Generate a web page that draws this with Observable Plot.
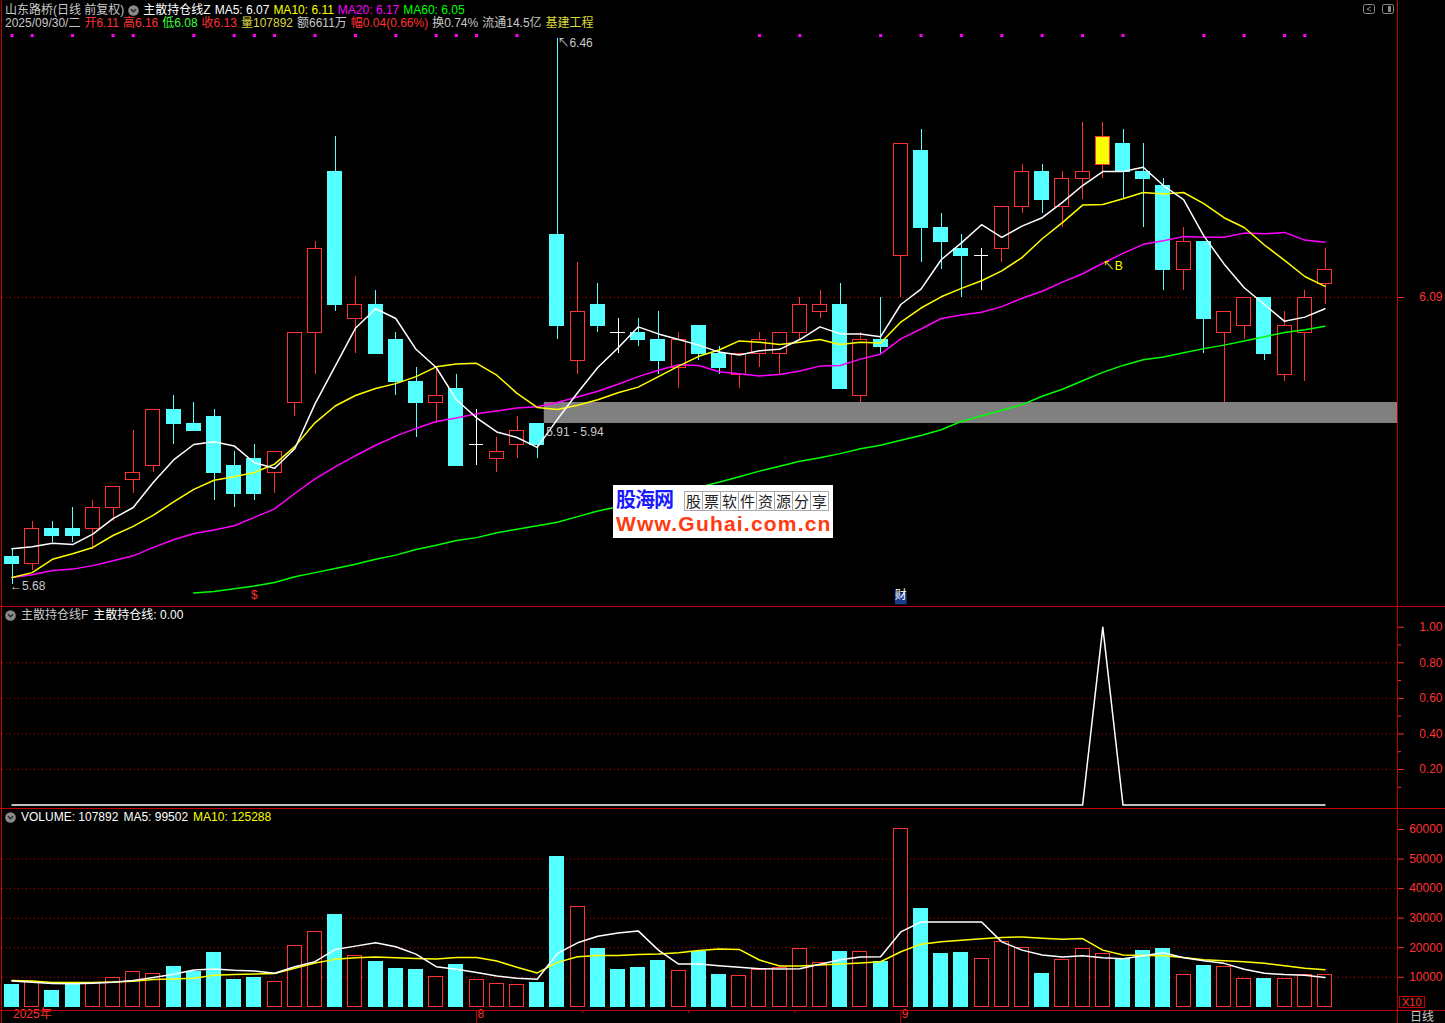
<!DOCTYPE html>
<html lang="zh-CN">
<head>
<meta charset="utf-8">
<title>山东路桥 日线</title>
<script src="https://cdn.jsdelivr.net/npm/d3@7"></script>
<script src="https://cdn.jsdelivr.net/npm/@observablehq/plot@0.6"></script>
<style>
html,body{margin:0;padding:0;background:#000;}
#wrap{position:relative;width:1445px;height:1023px;overflow:hidden;background:#000;
  font-family:"Liberation Sans","Noto Sans CJK SC",sans-serif;font-size:12px;color:#c8c8c8;}
.t{position:absolute;white-space:nowrap;line-height:14px;}
.row{position:absolute;display:flex;align-items:center;white-space:nowrap;line-height:14px;height:14px;}
.ln{position:absolute;background:#c00000;}
.pl{position:absolute;left:0;}
</style>
</head>
<body>
<div id="wrap"></div>
<script>
// ---------------- data ----------------
const open  = [5.72,5.71,5.76,5.76,5.76,5.79,5.83,5.85,5.93,5.91,5.92,5.85,5.86,5.84,5.94,6.04,6.27,6.06,6.08,6.03,5.97,5.94,5.96,5.88,5.86,5.88,5.91,6.18,6.00,6.08,6.04,6.04,6.03,5.99,6.05,6.01,5.98,6.01,6.01,6.04,6.07,6.08,5.95,6.03,6.15,6.30,6.19,6.16,6.15,6.16,6.22,6.27,6.22,6.26,6.28,6.31,6.27,6.25,6.13,6.17,6.04,6.05,6.09,5.98,6.04,6.11];
const high  = [5.73,5.77,5.77,5.79,5.80,5.82,5.90,5.93,5.95,5.94,5.93,5.87,5.88,5.87,6.04,6.17,6.32,6.12,6.10,6.04,5.99,5.99,5.98,5.93,5.89,5.92,5.91,6.46,6.14,6.11,6.06,6.06,6.07,6.04,6.05,6.02,6.01,6.04,6.04,6.09,6.10,6.11,6.04,6.09,6.31,6.33,6.21,6.18,6.16,6.22,6.28,6.28,6.27,6.34,6.34,6.33,6.31,6.26,6.19,6.17,6.07,6.09,6.09,6.07,6.10,6.16];
const low   = [5.68,5.70,5.74,5.74,5.73,5.77,5.81,5.84,5.88,5.90,5.80,5.79,5.80,5.81,5.92,5.98,6.07,6.01,6.01,5.95,5.89,5.91,5.85,5.85,5.84,5.86,5.86,6.03,5.98,6.04,6.01,6.02,5.98,5.96,6.00,5.98,5.96,5.99,5.98,6.03,6.06,5.96,5.94,6.01,6.09,6.14,6.13,6.09,6.10,6.14,6.21,6.21,6.19,6.23,6.26,6.23,6.19,6.10,6.10,6.01,5.94,6.03,6.00,5.97,5.97,6.08];
const close = [5.71,5.76,5.75,5.75,5.79,5.82,5.84,5.93,5.91,5.90,5.84,5.81,5.81,5.87,6.04,6.16,6.08,6.08,6.01,5.97,5.94,5.95,5.85,5.88,5.87,5.90,5.88,6.05,6.07,6.05,6.04,6.03,6.00,6.03,6.01,5.99,6.01,6.03,6.04,6.08,6.08,5.96,6.03,6.02,6.31,6.19,6.17,6.15,6.15,6.22,6.27,6.23,6.26,6.27,6.32,6.27,6.26,6.13,6.17,6.06,6.07,6.09,6.01,6.05,6.09,6.13];

const ma5  = [5.731,5.734,5.739,5.737,5.752,5.774,5.790,5.826,5.858,5.880,5.884,5.878,5.854,5.846,5.874,5.938,5.992,6.046,6.074,6.060,6.016,5.990,5.944,5.918,5.898,5.890,5.876,5.916,5.954,5.990,6.018,6.048,6.038,6.030,6.022,6.012,6.008,6.014,6.016,6.030,6.048,6.038,6.038,6.034,6.080,6.102,6.144,6.168,6.194,6.176,6.192,6.204,6.226,6.250,6.270,6.270,6.276,6.250,6.230,6.178,6.138,6.104,6.080,6.056,6.062,6.074];
const ma10 = [5.690,5.697,5.716,5.724,5.733,5.750,5.763,5.779,5.798,5.816,5.829,5.834,5.840,5.852,5.877,5.911,5.935,5.950,5.960,5.967,5.977,5.991,5.995,5.996,5.979,5.953,5.933,5.930,5.936,5.944,5.954,5.962,5.977,5.992,6.006,6.015,6.028,6.026,6.023,6.026,6.030,6.023,6.026,6.025,6.055,6.075,6.091,6.103,6.114,6.128,6.147,6.174,6.197,6.222,6.223,6.231,6.240,6.238,6.240,6.224,6.204,6.190,6.165,6.143,6.120,6.106];
const ma20 = [5.690,5.694,5.700,5.702,5.707,5.714,5.721,5.733,5.744,5.753,5.758,5.764,5.776,5.788,5.810,5.831,5.848,5.864,5.879,5.892,5.903,5.913,5.918,5.924,5.928,5.932,5.934,5.940,5.948,5.956,5.966,5.977,5.986,5.994,5.993,5.984,5.981,5.978,5.980,5.985,5.992,5.993,6.002,6.009,6.031,6.045,6.060,6.065,6.069,6.077,6.089,6.099,6.112,6.124,6.139,6.153,6.166,6.171,6.177,6.176,6.176,6.182,6.181,6.183,6.172,6.169];
const ma60 = [null,null,null,null,null,null,null,null,null,5.668,5.670,5.674,5.678,5.683,5.691,5.697,5.703,5.709,5.716,5.722,5.730,5.736,5.743,5.747,5.754,5.759,5.764,5.769,5.777,5.785,5.791,5.799,5.806,5.813,5.819,5.826,5.834,5.842,5.849,5.856,5.861,5.867,5.874,5.879,5.886,5.893,5.901,5.913,5.921,5.929,5.937,5.949,5.959,5.971,5.983,5.993,6.001,6.005,6.011,6.017,6.022,6.028,6.034,6.040,6.044,6.049];

const volume  = [74200,85400,54100,79800,79800,96600,116800,110100,134700,117900,181800,91000,97800,83200,204100,254500,309400,171700,151500,128000,124600,100000,141400,89900,76500,73100,81000,507500,338500,195200,124600,131400,154900,120200,186200,107800,104500,124600,130200,194100,147000,185100,184000,151500,600500,329800,178400,181800,160500,217600,198600,111200,157100,194100,177300,162700,188500,195200,106700,138100,133600,92500,93500,95600,108000,107892];
const volMa5  = [87700,83200,78700,77600,79800,83200,88800,98900,110100,124600,128000,123500,121300,113400,135800,152600,194100,205300,216500,203000,178400,135800,126900,115700,104500,96600,93300,180600,216500,238800,250000,256800,191800,144800,144800,139200,133600,129100,128000,129100,143700,159300,168300,169400,253400,287000,287000,287000,287000,219800,191800,175000,168300,172800,166100,162700,172800,182900,166100,156000,147000,126900,113400,109000,106700,99502];
const volMa10 = [88800,87700,82100,82100,82100,84300,86600,92200,94400,96600,106700,109000,111200,112300,130200,148200,160500,166100,168300,166100,163800,161600,167200,167200,154900,133600,114600,150400,169400,173900,173900,177300,178400,182900,190700,195200,194100,158300,138100,138100,141400,144800,148200,152600,186200,212000,219800,225400,229900,234400,236600,232100,228800,231000,191800,175000,173900,172800,167200,159300,156000,152600,147000,139200,130200,125288];

// 主散持仓线 signal
const signal = [0,0,0,0,0,0,0,0,0,0, 0,0,0,0,0,0,0,0,0,0, 0,0,0,0,0,0,0,0,0,0, 0,0,0,0,0,0,0,0,0,0, 0,0,0,0,0,0,0,0,0,0, 0,0,0,0,1,0,0,0,0,0, 0,0,0,0,0,0];
// candles flagged by the row of magenta marks at the top
const topMarkIdx = [0,1,3,5,6,9,11,12,13,15,17,19,21,22,23,25,37,39,43,45,47,49,51,53,55,59,61,63,64];

const prevClose = 6.09;
const gapFrom = 26, gapLo = 5.91, gapHi = 5.94;
const monthIdx = [0, 23, 44];
const monthText = ["2025年", "8", "9"];
const weekTickIdx = [28.25, 33.5, 38.75];
const eventIdx = [12, 44];
const eventText = ["$", "财"];
const sigGrid = [0.2, 0.4, 0.6, 0.8];
const sigTicks = [0.2, 0.4, 0.6, 0.8, 1.0];
const sigMinor = [0.1, 0.3, 0.5, 0.7, 0.9];
const volGrid = [100000, 200000, 300000, 400000, 500000];
const volTicks = [100000, 200000, 300000, 400000, 500000, 600000];

// ---------------- layout / scales ----------------
const W = 1445, FL = 2, FR = 1397;
const X0 = 11.5, STEP = 20.2, HALF = 0.35;
const xDomain = [(FL - X0) / STEP, (FR - X0) / STEP];
const priceDomain = [5.6486, 6.5143];
const sigDomain = [-0.0191, 1.1164];
const volDomain = [-12521, 671066];
const RED = "#ff3232", CYAN = "#54ffff", GRID = "#c80000", GRAY = "#c8c8c8";
const FONT = '"Liberation Sans","Noto Sans CJK SC",sans-serif';
const plotStyle = {background: "transparent", color: GRAY, fontFamily: FONT, fontSize: "12px", overflow: "visible"};

const candles = close.map((c, i) => {
  const o = open[i];
  const kind = signal[i] ? "sig" : c > o ? "up" : c < o ? "down" : "doji";
  const volUp = c > o || (c === o && (i === 0 || c >= close[i - 1]));
  return {i, o, h: high[i], l: low[i], c, kind, v: volume[i], volUp};
});
const strokeOf = k => k === "down" ? CYAN : k === "doji" ? "#ffffff" : RED;
const fillOf = k => k === "down" ? CYAN : k === "sig" ? "#ffff00" : "#000000";
const hiIdx = d3.maxIndex(high), loIdx = d3.minIndex(low);
const events = eventIdx.map((i, k) => ({i, t: eventText[k]}));
const months = monthIdx.map((i, k) => ({i, t: monthText[k]}));

const wrap = document.getElementById("wrap");
function addPlot(svg, top) {
  const d = document.createElement("div");
  d.className = "pl"; d.style.top = top + "px";
  d.appendChild(svg); wrap.appendChild(d);
}

// main price panel
const mainPlot = Plot.plot({
  width: W, height: 606, marginLeft: FL, marginRight: W - FR, marginTop: 0, marginBottom: 0,
  x: {domain: xDomain, axis: null},
  y: {domain: priceDomain},
  style: plotStyle,
  marks: [
    Plot.ruleY([prevClose], {stroke: GRID, strokeDasharray: "1,3"}),
    Plot.rect([{from: gapFrom, lo: gapLo, hi: gapHi}], {x1: d => d.from + HALF, x2: () => xDomain[1], y1: "lo", y2: "hi", fill: "#808080"}),
    Plot.ruleX(candles, {x: "i", y1: "l", y2: "h", stroke: d => strokeOf(d.kind), shapeRendering: "crispEdges"}),
    Plot.rect(candles.filter(d => d.kind !== "doji"), {x1: d => d.i - HALF, x2: d => d.i + HALF, y1: "o", y2: "c", fill: d => fillOf(d.kind), stroke: d => strokeOf(d.kind), shapeRendering: "crispEdges"}),
    Plot.ruleY(candles.filter(d => d.kind === "doji"), {y: "c", x1: d => d.i - HALF, x2: d => d.i + HALF, stroke: "#ffffff", shapeRendering: "crispEdges"}),
    Plot.line(candles, {x: "i", y: d => ma60[d.i], stroke: "#00ff00"}),
    Plot.line(candles, {x: "i", y: d => ma20[d.i], stroke: "#ff00ff"}),
    Plot.line(candles, {x: "i", y: d => ma10[d.i], stroke: "#ffff00"}),
    Plot.line(candles, {x: "i", y: d => ma5[d.i], stroke: "#ffffff"}),
    Plot.text([{lo: gapLo, hi: gapHi, from: gapFrom}], {x: "from", y: "lo", text: d => `${d.lo.toFixed(2)} - ${d.hi.toFixed(2)}`, textAnchor: "start", dx: 9, dy: 9, fill: GRAY}),
    Plot.text([candles[hiIdx]], {x: "i", y: "h", text: d => "↖" + d.h.toFixed(2), textAnchor: "start", dx: 0, dy: 5, fill: GRAY}),
    Plot.text([candles[loIdx]], {x: "i", y: "l", text: d => "←" + d.l.toFixed(2), textAnchor: "start", dx: -2, dy: 2, fill: GRAY}),
    Plot.text(candles.filter(d => d.kind === "sig"), {x: "i", y: d => ma20[d.i], text: () => "↖B", textAnchor: "start", dx: 0, dy: 3, fill: "#ffff00"}),
    Plot.dot(topMarkIdx, {x: d => d, frameAnchor: "top", dy: 35, symbol: "square", r: 1.7, fill: "#ff00ff"}),
    Plot.dot(events.filter(d => d.t === "财"), {x: "i", frameAnchor: "bottom", dy: -8, symbol: "square", r: 6.6, fill: "#1c3e8c"}),
    Plot.text(events, {x: "i", frameAnchor: "bottom", dy: -8, text: "t", fill: d => d.t === "$" ? RED : "#ffffff", fontWeight: d => d.t === "$" ? "bold" : "normal", fontSize: 12}),
    Plot.axisY({anchor: "right", ticks: [prevClose], tickSize: 6, tickPadding: 39, textAnchor: "end", tickFormat: ".2f", color: RED, fontSize: 12, label: null})
  ]
});
addPlot(mainPlot, 0);

// indicator panel
const sigPlot = Plot.plot({
  width: W, height: 202, marginLeft: FL, marginRight: W - FR, marginTop: 0, marginBottom: 0,
  x: {domain: xDomain, axis: null},
  y: {domain: sigDomain},
  style: plotStyle,
  marks: [
    Plot.ruleY(sigGrid, {stroke: GRID, strokeDasharray: "1,3"}),
    Plot.line(candles, {x: "i", y: d => signal[d.i], stroke: "#ffffff"}),
    Plot.axisY({anchor: "right", ticks: sigTicks, tickSize: 6, tickPadding: 39, textAnchor: "end", tickFormat: ".2f", color: RED, fontSize: 12, label: null}),
    Plot.axisY({anchor: "right", ticks: sigMinor, tickSize: 3, tickFormat: () => "", color: RED, label: null})
  ]
});
addPlot(sigPlot, 606);

// volume panel
const volPlot = Plot.plot({
  width: W, height: 215, marginLeft: FL, marginRight: W - FR, marginTop: 0, marginBottom: 13,
  x: {domain: xDomain, label: null},
  y: {domain: volDomain, label: null},
  style: plotStyle,
  marks: [
    Plot.ruleY(volGrid, {stroke: GRID, strokeDasharray: "1,3"}),
    Plot.rect(candles, {x1: d => d.i - HALF, x2: d => d.i + HALF, y1: () => 0, y2: "v", fill: d => d.volUp ? "#000000" : CYAN, stroke: d => d.volUp ? RED : CYAN, shapeRendering: "crispEdges"}),
    Plot.line(candles, {x: "i", y: d => volMa10[d.i], stroke: "#ffff00"}),
    Plot.line(candles, {x: "i", y: d => volMa5[d.i], stroke: "#ffffff"}),
    Plot.axisY({anchor: "right", ticks: volTicks, tickSize: 6, tickPadding: 39, textAnchor: "end", tickFormat: d => String(d / 10), color: RED, fontSize: 12, label: null}),
    Plot.axisX({anchor: "bottom", ticks: monthIdx.slice(1), tickSize: 13, tickFormat: () => "", color: GRID, label: null}),
    Plot.axisX({anchor: "bottom", ticks: weekTickIdx, tickSize: 3, tickFormat: () => "", color: GRID, label: null}),
    Plot.text(months, {x: "i", text: "t", frameAnchor: "bottom", dy: 7, dx: 1, textAnchor: "start", fill: RED})
  ]
});
addPlot(volPlot, 808);

// ---------------- frame lines & header texts ----------------
function line(l, t, w, h) { const d = document.createElement("div"); d.className = "ln"; Object.assign(d.style, {left: l + "px", top: t + "px", width: w + "px", height: h + "px"}); wrap.appendChild(d); }
line(1, 0, 1, 1023);
line(FR, 0, 1, 1023);
line(0, 606, W, 1);
line(0, 808, W, 1);
line(0, 1010, W, 1);

const ICON = '<svg width="11" height="11" style="display:block"><circle cx="5.5" cy="5.5" r="5.3" fill="#8a8a8a"/><path d="M3 4.3 L5.5 6.8 L8 4.3" stroke="#2a2a2a" stroke-width="1.5" fill="none"/></svg>';
// a row of coloured text segments laid out left to right
function row(left, top, gap, segs) {
  const r = document.createElement("div"); r.className = "row";
  r.style.left = left + "px"; r.style.top = top + "px"; r.style.gap = gap + "px";
  for (const [s, color] of segs) {
    const sp = document.createElement("span");
    if (s === "@icon") sp.innerHTML = ICON; else { sp.textContent = s; sp.style.color = color; }
    r.appendChild(sp);
  }
  wrap.appendChild(r);
}
function txt(left, top, s, color, extra) {
  const d = document.createElement("div"); d.className = "t";
  d.style.left = left + "px"; d.style.top = top + "px"; d.style.color = color || GRAY;
  if (extra) Object.assign(d.style, extra);
  d.textContent = s; wrap.appendChild(d); return d;
}
const YEL2 = "#d8d840", GRN = "#3cff3c";
const last = candles[65];
row(5, 3, 4, [
  ["山东路桥(日线 前复权)", GRAY], ["@icon"], ["主散持仓线Z", "#ffffff"],
  [`MA5: ${ma5[65].toFixed(2)}`, "#ffffff"], [`MA10: ${ma10[65].toFixed(2)}`, "#ffff00"],
  [`MA20: ${ma20[65].toFixed(2)}`, "#ff00ff"], [`MA60: ${ma60[65].toFixed(2)}`, "#00ff00"]
]);
row(5, 16, 4, [
  ["2025/09/30/二", GRAY], ["开" + last.o.toFixed(2), RED], ["高" + last.h.toFixed(2), RED],
  ["低" + last.l.toFixed(2), GRN], ["收" + last.c.toFixed(2), RED], ["量" + last.v, YEL2],
  ["额6611万", GRAY],
  [`幅${(last.c - prevClose).toFixed(2)}(${((last.c - prevClose) / prevClose * 100).toFixed(2)}%)`, RED],
  ["换0.74%", GRAY], ["流通14.5亿", GRAY], ["基建工程", YEL2]
]);
row(5, 608, 5, [["@icon"], ["主散持仓线F", GRAY], [`主散持仓线: ${signal[65].toFixed(2)}`, "#ffffff"]]);
row(5, 810, 5, [["@icon"], [`VOLUME: ${last.v}`, "#ffffff"], [`MA5: ${volMa5[65]}`, "#ffffff"], [`MA10: ${volMa10[65]}`, "#ffff00"]]);

// bottom-right
txt(1399, 996, "X10", RED, {border: "1px solid #c00000", lineHeight: "10px", height: "10px", padding: "0 2px", fontSize: "11px"});
txt(1410, 1010, "日线", GRAY);
// top-right window icons
const ic = document.createElement("div");
ic.style.cssText = "position:absolute;left:1362px;top:3px;width:34px;height:12px;";
ic.innerHTML = '<svg width="34" height="12"><rect x="1.5" y="1.5" width="11" height="9" rx="2" fill="none" stroke="#8a8a8a"/><path d="M9 4 L5 6 L9 8" stroke="#8a8a8a" fill="none"/><rect x="20.5" y="1.5" width="11" height="9" rx="2" fill="none" stroke="#8a8a8a"/><rect x="26" y="3" width="3" height="6" fill="#8a8a8a"/></svg>';
wrap.appendChild(ic);
// watermark box
const wm = document.createElement("div");
wm.style.cssText = "position:absolute;left:613px;top:485px;width:220px;height:53px;background:#fff;overflow:hidden;";
wm.innerHTML =
  '<div style="position:absolute;left:3px;top:1px;font:bold 20px \'Noto Sans CJK SC\';color:#1a1aff;line-height:26px;letter-spacing:-1px">股海网</div>' +
  '<div style="position:absolute;left:71px;top:6px;display:flex">' +
  "股票软件资源分享".split("").map(c => `<span style="display:inline-block;width:17px;height:18px;border:1px solid #aaa;margin-right:-1px;font:15px 'Noto Sans CJK SC';line-height:18px;text-align:center;color:#222">${c}</span>`).join("") +
  '</div>' +
  '<div style="position:absolute;left:3px;top:27px;font:bold 21px \'Liberation Sans\';color:#ff3a10;line-height:24px;letter-spacing:1.2px">Www.Guhai.com.cn</div>';
wrap.appendChild(wm);
</script>
</body>
</html>
